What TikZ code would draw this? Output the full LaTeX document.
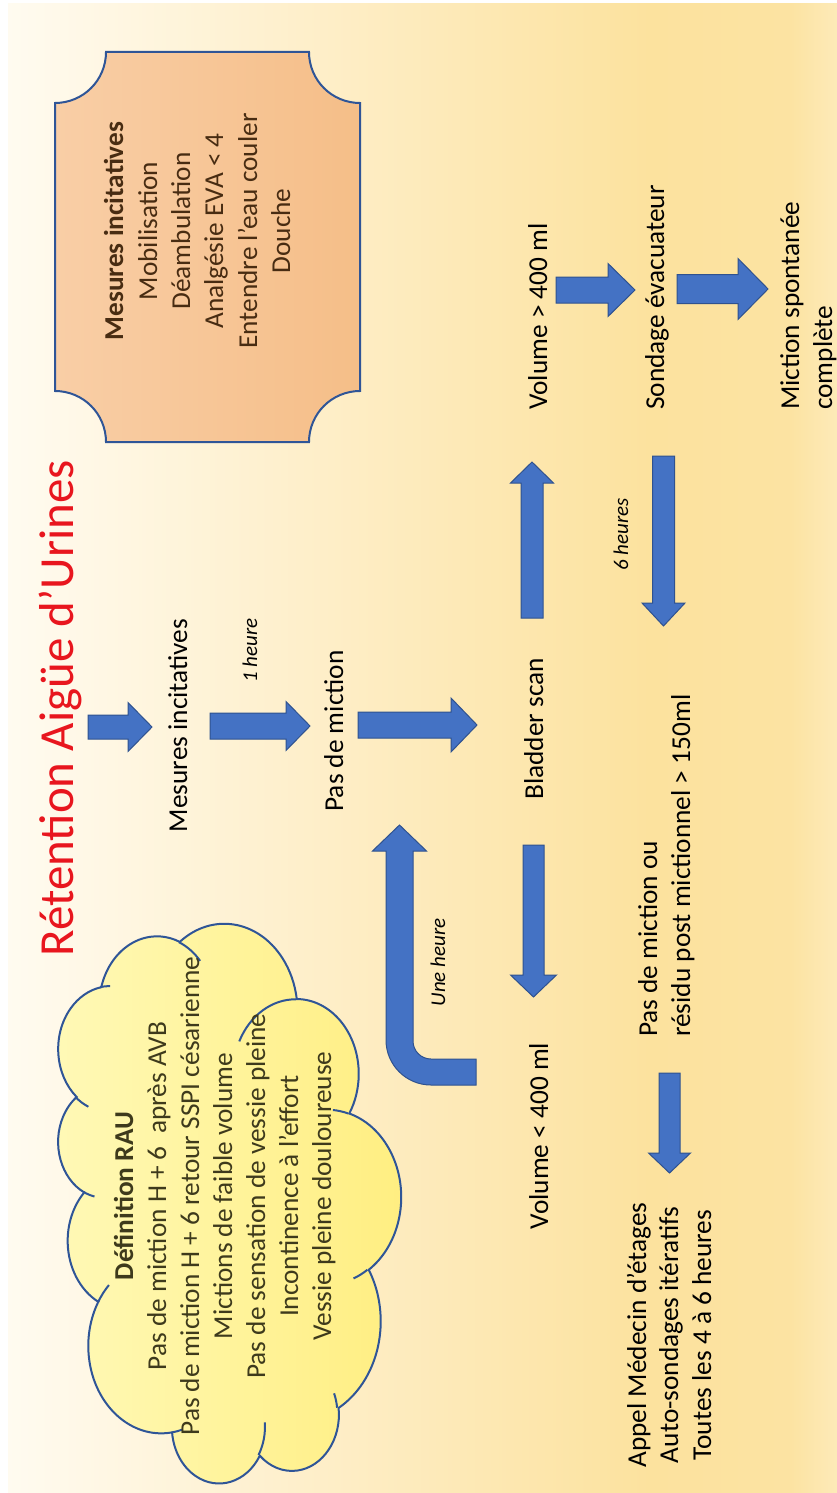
\documentclass[tikz,border=0pt]{standalone}
\usepackage{fontspec}
\setmainfont{Carlito}
\definecolor{arrowfill}{RGB}{68,114,196}
\definecolor{arrowline}{RGB}{47,82,143}
\definecolor{shapeline}{RGB}{47,85,151}
\definecolor{titlered}{RGB}{232,22,30}
\definecolor{cloudtext}{RGB}{62,58,28}
\definecolor{plaquetext}{RGB}{72,44,18}
\definecolor{bgA}{RGB}{255,251,240}
\definecolor{bgB}{RGB}{254,239,203}
\definecolor{bgC}{RGB}{252,226,158}
\definecolor{bgD}{RGB}{252,227,162}
\definecolor{bgE}{RGB}{253,234,184}
\definecolor{cloudA}{RGB}{255,249,183}
\definecolor{cloudB}{RGB}{255,238,128}
\definecolor{plaqueA}{RGB}{249,206,166}
\definecolor{plaqueB}{RGB}{245,190,136}
\pgfdeclarehorizontalshading{bgshade}{100bp}{color(0bp)=(bgA); color(25bp)=(bgA); color(42.6bp)=(bgB); color(63.7bp)=(bgC); color(72.2bp)=(bgD); color(75bp)=(bgE); color(100bp)=(bgE)}
% block arrows: right (x tail, x tip, y centre, shaft half, head half, head length)
\newcommand\BlkRight[6]{\draw[blockarrow] (#1,{#3-#4}) -- ({#2-#6},{#3-#4}) -- ({#2-#6},{#3-#5}) -- (#2,#3) -- ({#2-#6},{#3+#5}) -- ({#2-#6},{#3+#4}) -- (#1,{#3+#4}) -- cycle;}
% down (y tail, y tip, x centre, shaft half, head half, head length)
\newcommand\BlkDown[6]{\draw[blockarrow] ({#3-#4},#1) -- ({#3-#4},{#2-#6}) -- ({#3-#5},{#2-#6}) -- (#3,#2) -- ({#3+#5},{#2-#6}) -- ({#3+#4},{#2-#6}) -- ({#3+#4},#1) -- cycle;}
% up (y tail, y tip, x centre, shaft half, head half, head length)
\newcommand\BlkUp[6]{\draw[blockarrow] ({#3-#4},#1) -- ({#3-#4},{#2+#6}) -- ({#3-#5},{#2+#6}) -- (#3,#2) -- ({#3+#5},{#2+#6}) -- ({#3+#4},{#2+#6}) -- ({#3+#4},#1) -- cycle;}
\newcommand\CloudPath{(50.47,114.09)
 arc[start angle=187.746, end angle=59.64, x radius=87.38pt, y radius=72.97pt]
 arc[start angle=152.03, end angle=45.46, x radius=69.01pt, y radius=57.70pt]
 arc[start angle=153.49, end angle=37.32, x radius=56.48pt, y radius=47.20pt]
 arc[start angle=139.71, end angle=10.21, x radius=62.85pt, y radius=52.36pt]
 arc[start angle=74.77, end angle=-23.21, x radius=69.01pt, y radius=57.75pt]
 arc[start angle=37.52, end angle=-81.86, x radius=87.67pt, y radius=73.20pt]
 arc[start angle=-0.46, end angle=-121.98, x radius=74.86pt, y radius=62.46pt]
 arc[start angle=-16.84, end angle=-146.22, x radius=87.37pt, y radius=73.16pt]
 arc[start angle=-58.98, end angle=-150.20, x radius=99.90pt, y radius=83.71pt]
 arc[start angle=-83.31, end angle=-223.12, x radius=56.42pt, y radius=46.99pt]
 arc[start angle=-120.36, end angle=-264.11, x radius=56.22pt, y radius=47.20pt]
 -- cycle}
\newcommand\CloudInner{
 (60.73,207.84) arc[start angle=-85.546, end angle=-120.36, x radius=56.22pt, y radius=47.20pt]
 (89.65,277.09) arc[start angle=-68.24, end angle=-83.31, x radius=56.42pt, y radius=46.99pt]
 (213.22,310.37) arc[start angle=-146.22, end angle=-158.47, x radius=87.37pt, y radius=73.16pt]
 (373.02,275.92) arc[start angle=-4.737, end angle=-16.84, x radius=87.37pt, y radius=73.16pt]
 (441.63,182.25) arc[start angle=64.03, end angle=-0.46, x radius=74.86pt, y radius=62.46pt]
 (540.86,121.91) arc[start angle=-23.21, end angle=-49.63, x radius=69.01pt, y radius=57.75pt]
 (495.91,43.08) arc[start angle=10.21, end angle=-0.821, x radius=62.85pt, y radius=52.36pt]
 (376.27,31.38) arc[start angle=156.29, end angle=139.71, x radius=62.85pt, y radius=52.36pt]
 (286.50,37.48) arc[start angle=167.73, end angle=153.49, x radius=56.48pt, y radius=47.20pt]
 (181.16,41.22) arc[start angle=59.64, end angle=45.74, x radius=87.38pt, y radius=72.97pt]
 (53.40,125.36) arc[start angle=-163.19, end angle=-172.25, x radius=87.38pt, y radius=72.97pt]
}
\begin{document}
\begin{tikzpicture}[x=1pt,y=-1pt,
  blockarrow/.style={fill=arrowfill, draw=arrowline, line width=1pt, line join=miter},
  shapeborder/.style={draw=shapeline, line width=2pt},
  txt/.style={rotate=90, inner sep=0pt, font=\fontsize{27.3}{33}\selectfont},
  itxt/.style={font=\fontsize{21}{25}\selectfont\itshape},
  boldtxt/.style={font=\fontsize{27.3}{33}\selectfont\bfseries},
  titletxt/.style={font=\fontsize{49}{59}\selectfont, text=titlered},
  ctext/.style={text=cloudtext},
  ptext/.style={text=plaquetext}]
\useasboundingbox (0,0) rectangle (837,1493);
\fill[white] (0,0) rectangle (837,1493);
\shade[shading=bgshade] (8,4) rectangle (837,1492);

% plaque (Mesures incitatives)
\draw[shapeborder, left color=plaqueA, right color=plaqueB]
  (55,103) -- (55,391) .. controls (83.2,391) and (106,413.8) .. (106,442)
  -- (309,442) .. controls (309,413.8) and (331.8,391) .. (360,391)
  -- (360,103) .. controls (331.8,103) and (309,80.2) .. (309,52)
  -- (106,52) .. controls (106,80.2) and (83.2,103) .. (55,103) -- cycle;

% cloud (Définition RAU)
\begin{scope}[shift={(57,1483)}, rotate=90]
  \begin{scope}
    \clip \CloudPath;
    \begin{scope}[reset cm]
      \shade[left color=cloudA, right color=cloudB] (50,915) rectangle (410,1490);
    \end{scope}
  \end{scope}
  \draw[shapeborder] \CloudPath;
  \draw[shapeborder] \CloudInner;
\end{scope}

% block arrows
\BlkRight{88}{152}{727}{12}{24.5}{24}
\BlkRight{210}{310}{726}{13}{24.5}{24}
\BlkRight{358}{477}{725}{13}{27}{26}
\BlkUp{618}{462}{532}{11}{21.5}{21}
\BlkRight{556}{635}{290}{13}{26.5}{27}
\BlkRight{677}{768}{289}{14.5}{30.5}{30}
\BlkDown{456}{626}{663.5}{11}{21.5}{23}
\BlkDown{845}{997}{533.5}{10.5}{23}{22}
\BlkDown{1073}{1173}{669.5}{10.5}{21}{20}
\draw[blockarrow] (399.5,825) -- (426.5,851) -- (413,851) -- (413,1041)
  .. controls (413,1050.94) and (421.06,1059) .. (431,1059) -- (476,1059) -- (476,1085) -- (431,1085)
  .. controls (406.15,1085) and (386,1064.85) .. (386,1040) -- (386,851) -- (372.5,851) -- cycle;

% title
\node[txt, titletxt, anchor=base] (title) at (73,708.5) {Rétention Aigüe d’Urines};

% flow texts
\node[txt, anchor=base] (mes) at (187,725.5) {Mesures incitatives};
\node[txt, itxt, anchor=base] (h1) at (257,650.5) {1 heure};
\node[txt, anchor=base] (pdm) at (343,731) {Pas de miction};
\node[txt, anchor=base] (bs) at (543,729) {Bladder scan};
\node[txt, itxt, anchor=base] (une) at (445,962.5) {Une heure};
\node[txt, anchor=base] (vlt) at (548,1136) {Volume < 400 ml};
\node[txt, anchor=base west] (res1) at (657,1037) {Pas de miction ou};
\node[txt, anchor=base west] (res2) at (690,1037) {résidu post mictionnel > 150ml};
\node[txt, anchor=base west] (vgt) at (547,410) {Volume > 400 ml};
\node[txt, anchor=base west] (sond) at (664,410) {Sondage évacuateur};
\node[txt, anchor=base west] (mic1) at (799,410) {Miction spontanée};
\node[txt, anchor=base west] (mic2) at (832,410) {complète};
\node[txt, itxt, anchor=base] (h6) at (628,534.5) {6 heures};
\node[txt, anchor=base] (app1) at (646,1335) {Appel Médecin d’étages};
\node[txt, anchor=base] (app2) at (678,1335) {Auto-sondages itératifs};
\node[txt, anchor=base] (app3) at (711,1335) {Toutes les 4 à 6 heures};

% cloud texts
\node[txt, ctext, boldtxt, anchor=base] (c1) at (133,1196) {Définition RAU};
\node[txt, ctext, anchor=base] (c2) at (166,1196) {Pas de miction H + 6~ après AVB};
\node[txt, ctext, anchor=base] (c3) at (199,1196) {Pas de miction H + 6 retour SSPI césarienne};
\node[txt, ctext, anchor=base] (c4) at (232,1196) {Mictions de faible volume};
\node[txt, ctext, anchor=base] (c5) at (265,1196) {Pas de sensation de vessie pleine};
\node[txt, ctext, anchor=base] (c6) at (298,1196) {Incontinence à l’effort};
\node[txt, ctext, anchor=base] (c7) at (331,1196) {Vessie pleine douloureuse};

% plaque texts
\node[txt, ptext, boldtxt, anchor=base] (p1) at (123,231) {Mesures incitatives};
\node[txt, ptext, anchor=base] (p2) at (157,231) {Mobilisation};
\node[txt, ptext, anchor=base] (p3) at (190,231) {Déambulation};
\node[txt, ptext, anchor=base] (p4) at (223,231) {Analgésie EVA < 4};
\node[txt, ptext, anchor=base] (p5) at (257,231) {Entendre l’eau couler};
\node[txt, ptext, anchor=base] (p6) at (290,231) {Douche};
\end{tikzpicture}
\end{document}
